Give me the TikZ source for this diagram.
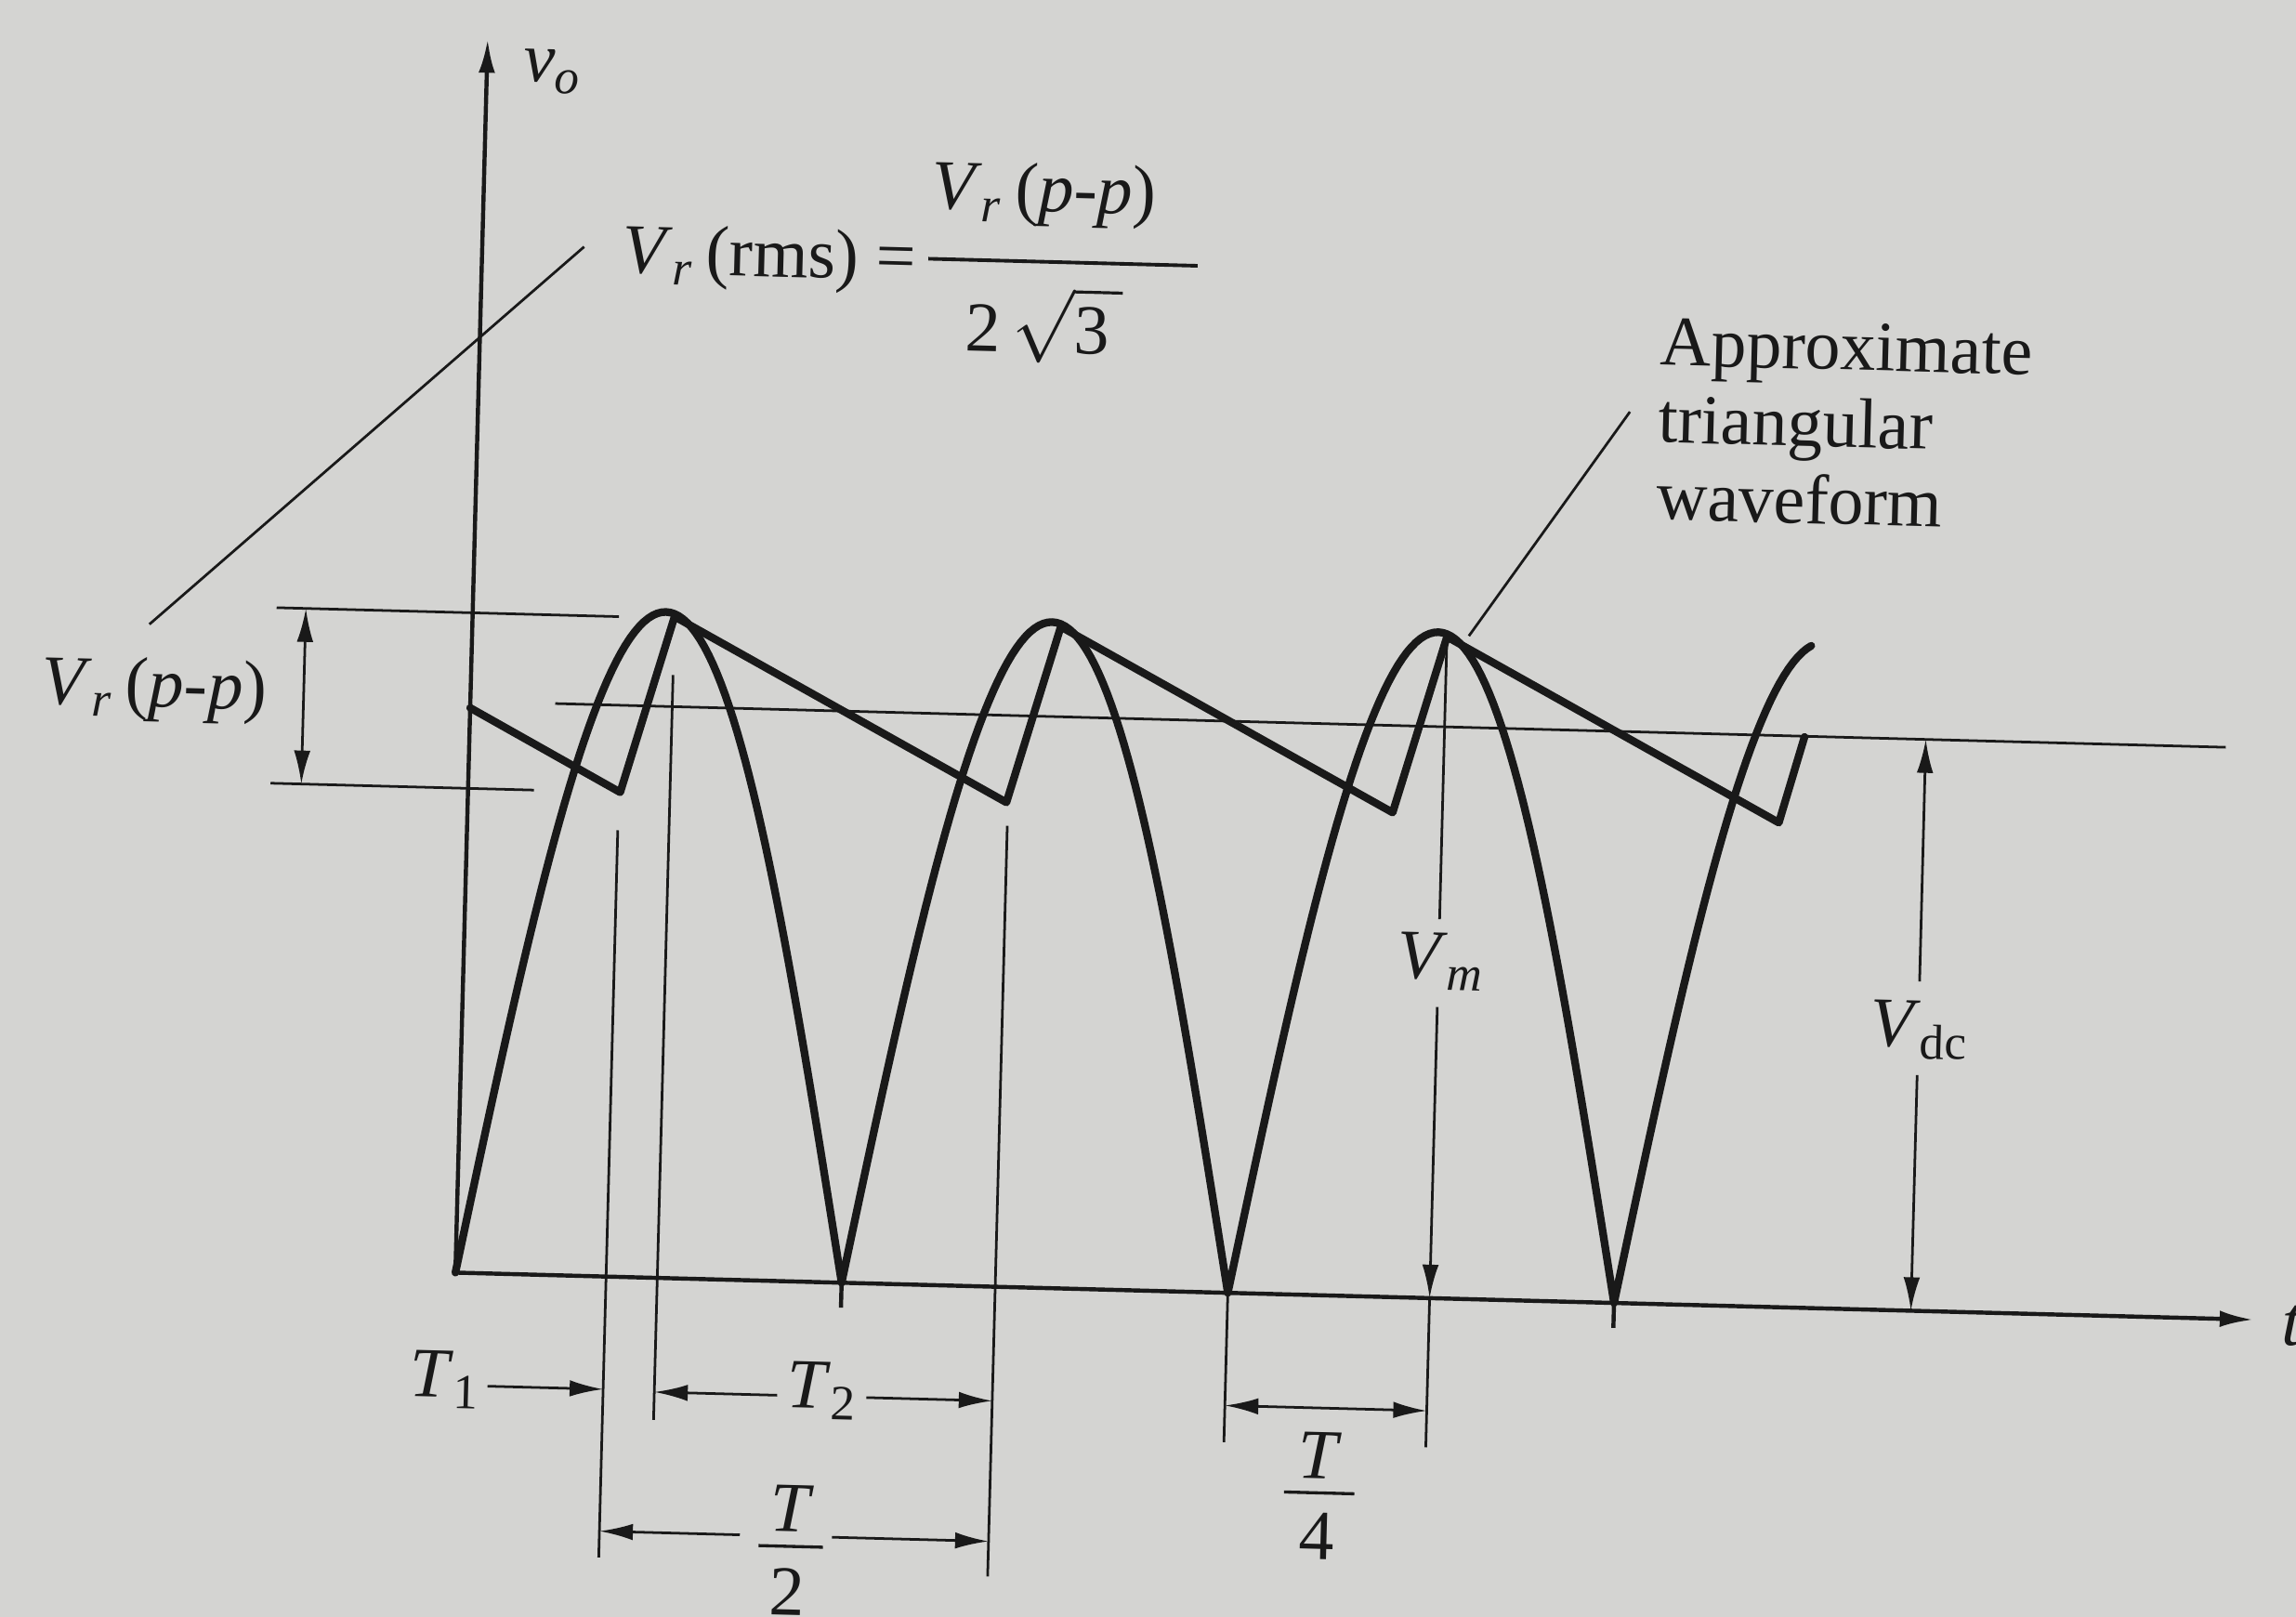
\documentclass[tikz,border=0pt]{standalone}
\usepackage{fontspec}
\setmainfont{Liberation Serif}
\usetikzlibrary{arrows.meta}
\definecolor{paper}{RGB}{212,212,210}
\definecolor{ink}{RGB}{25,25,25}
\begin{document}
\begin{tikzpicture}
\useasboundingbox (0,0) rectangle (15.68,11.04);
\fill[paper] (0,0) rectangle (15.68,11.04);
\begin{scope}[shift={(3.11,2.35)}, rotate=-1.5, x=0.01cm, y=0.01cm, transform shape,
  lbl/.style={font=\fontsize{13.7}{15}\selectfont, inner sep=0pt, text=ink},
  axisline/.style={draw=ink, line width=0.8pt},
  wave/.style={draw=ink, line width=1.5pt, line join=round, line cap=round},
  thinline/.style={draw=ink, line width=0.5pt},
  tick/.style={draw=ink, line width=0.8pt},
  tipend/.style={-{Latex[length=6.5pt,width=3.2pt]}},
  tipboth/.style={{Latex[length=6.5pt,width=3.2pt]}-{Latex[length=6.5pt,width=3.2pt]}}]

% axes
\coordinate (O) at (0,0);
\coordinate (Ytop) at (0,843);
\coordinate (Xend) at (1229,0);
\draw[axisline, tipend] (O) -- (Ytop);
\draw[axisline, tipend] (O) -- (Xend);
\node[lbl] (vo) at (45,822) {\textit{v}\textsubscript{\textit{o}}};
\node[lbl, anchor=base west] (t) at (1248,-17) {\textit{t}};

% full-wave rectified sine
\draw[wave] plot[domain=0:915, samples=306] (\x, {455*abs(sin((\x/264)*180))});

% approximate triangular ripple
\draw[wave] (0,386) -- (104,331) -- (138,452) -- (368,331) -- (402,452)
  -- (632,331) -- (666,452) -- (896,331) -- (912,390);

% ticks below cusps
\draw[tick] (264,0) -- (264,-17);
\draw[tick] (792,0) -- (792,-17);

% Vdc level line
\coordinate (dcL) at (58,390.5);
\coordinate (dcR) at (1200,390.5);
\draw[thinline] (dcL) -- (dcR);

% Vr(p-p) dimension
\coordinate (ppTL) at (-134,451);
\coordinate (ppTR) at (100,451);
\coordinate (ppBL) at (-135,331);
\coordinate (ppBR) at (45,331);
\draw[thinline] (ppTL) -- (ppTR);
\draw[thinline] (ppBL) -- (ppBR);
\coordinate (ppA) at (-114,331);
\coordinate (ppB) at (-114,451);
\draw[thinline, tipboth] (ppA) -- (ppB);
\node[lbl, anchor=base west] (vrpp) at (-293.5,381)
  {\textit{V}\textsubscript{\textit{r}}\,(\textit{p}-\textit{p})};

% Vr(rms) formula
\node[lbl, anchor=base west] (vrms) at (95.5,686)
  {\textit{V}\textsubscript{\textit{r}}\,(rms) =};
\node[lbl, anchor=base] (num) at (383,735)
  {\textit{V}\textsubscript{\textit{r}}\,(\textit{p}-\textit{p})};
\coordinate (barL) at (305,701);
\coordinate (barR) at (489,701);
\draw[ink, line width=0.7pt] (barL) -- (barR);
\node[lbl, anchor=base] (den) at (385,639) {2\,\(\sqrt{\mbox{3}\,}\)};
\coordinate (ldA) at (69.6,703);
\coordinate (ldB) at (-220.6,437.4);
\draw[thinline] (ldA) -- (ldB);

% Approximate triangular waveform
\node[lbl, anchor=north west, align=left] (approx) at (806,674)
  {Approximate\\triangular\\waveform};
\coordinate (apA) at (787,609);
\coordinate (apB) at (681,453);
\draw[thinline] (apA) -- (apB);

% Vm
\node[lbl, anchor=base] (vm) at (668,218) {\textit{V}\textsubscript{\textit{m}}};
\coordinate (vmTop) at (666,452);
\coordinate (vmBot) at (666,0);
\draw[thinline] (vmTop) -- (666,259);
\draw[thinline, tipend] (666,199) -- (vmBot);

% Vdc
\node[lbl, anchor=base] (vdc) at (996,180) {\textit{V}\textsubscript{dc}};
\coordinate (dcTop) at (995,390.5);
\coordinate (dcBot) at (995,0);
\draw[thinline, tipend] (995,225) -- (dcTop);
\draw[thinline, tipend] (995,161) -- (dcBot);

% extension lines
\draw[thinline] (103,305) -- (103,-192);
\draw[thinline] (138,412) -- (138,-97);
\draw[thinline] (369,315) -- (369,-198);
\draw[thinline] (528,0) -- (528,-102);
\draw[thinline] (vmBot) -- (666,-102);

% T1
\node[lbl, anchor=mid] (T1) at (-5,-77) {\textit{T}\textsubscript{1}};
\draw[thinline, tipend] (24,-77) -- (103,-77);

% T2
\node[lbl, anchor=mid] (T2) at (253,-78) {\textit{T}\textsubscript{2}};
\draw[thinline, tipend] (222,-78) -- (138,-78);
\draw[thinline, tipend] (283,-78) -- (369,-78);

% T/2
\node[lbl] (Th) at (234,-155) {\textit{T}};
\draw[ink, line width=0.6pt] (212,-181) -- (256,-181);
\node[lbl] (two) at (232,-212) {2};
\draw[thinline, tipend] (199,-174) -- (103,-174);
\draw[thinline, tipend] (262,-174) -- (369,-174);

% T/4
\draw[thinline, tipboth] (528,-77) -- (666,-77);
\node[lbl] (Tq) at (594,-109.5) {\textit{T}};
\draw[ink, line width=0.6pt] (570,-135) -- (618,-135);
\node[lbl] (four) at (593,-164.5) {4};
\end{scope}
\end{tikzpicture}
\end{document}
